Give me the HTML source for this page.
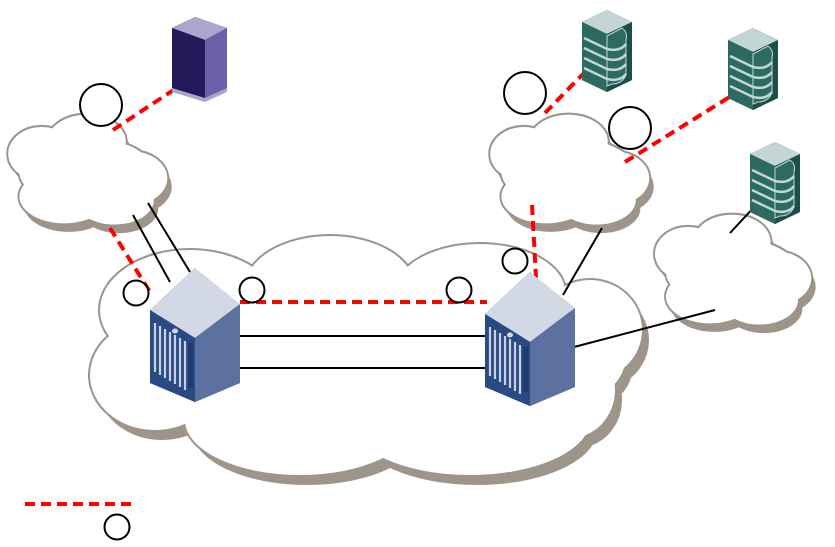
<!DOCTYPE html><html><head><style>html,body{margin:0;padding:0;background:#fff}svg{display:block}</style></head><body>
<svg width="835" height="547" viewBox="0 0 835 547" xmlns="http://www.w3.org/2000/svg">
<defs>
<g id="bigc">
<ellipse cx="370" cy="360" rx="255" ry="85"/>
<ellipse cx="190" cy="310" rx="90" ry="60"/>
<ellipse cx="330" cy="288" rx="85" ry="52"/>
<ellipse cx="480" cy="292" rx="85" ry="48"/>
<ellipse cx="590" cy="330" rx="52" ry="50"/>
<ellipse cx="155" cy="375" rx="65" ry="55"/>
<ellipse cx="300" cy="420" rx="115" ry="55"/>
<ellipse cx="470" cy="420" rx="120" ry="55"/>
<ellipse cx="570" cy="390" rx="45" ry="48"/>
</g>
<g id="sc">
<ellipse cx="80" cy="55" rx="60" ry="28"/>
<ellipse cx="40" cy="40" rx="30" ry="22"/>
<ellipse cx="80" cy="30" rx="35" ry="22"/>
<ellipse cx="120" cy="60" rx="32" ry="22"/>
<ellipse cx="60" cy="75" rx="40" ry="22"/>
<ellipse cx="105" cy="78" rx="35" ry="20"/>
</g>
<g id="scl"><g fill="#9d958a" transform="translate(4,7)"><use href="#sc"/></g><g fill="#9d958a" stroke="#9d958a" stroke-width="3.5"><use href="#sc"/></g><g fill="#fff"><use href="#sc"/></g></g>
<g id="db">
<polygon points="0,12 25,0 50,12 50,70 25,82 0,70" fill="#1e5a50"/>
<polygon points="0,12 25,0 50,12 25,24" fill="#c3d6d3"/>
<polygon points="0,12 25,24 25,82 0,70" fill="#2b6a60"/>
<polygon points="25,24 50,12 50,70 25,82" fill="#1b4f47"/>
<path d="M25,26 L40,18 Q46,22 44,30 L44,65 Q40,74 30,74 L25,76Z" fill="#2d6b61" stroke="#c3d6d3" stroke-width="1"/>
<g stroke="#c3d6d3" stroke-width="2.5" fill="none">
<path d="M2,28 L25,39 Q38,42 44,34"/><path d="M2,38 L25,49 Q38,52 44,44"/><path d="M2,48 L25,59 Q38,62 44,54"/><path d="M2,58 L25,69 Q38,72 44,64"/></g>
</g>
<g id="srv">
<polygon points="0,42 45,0 90,42 90,115 45,134 0,115" fill="#2a4a84"/>
<polygon points="0,42 45,0 90,36 45,70" fill="#d2d8e4"/>
<polygon points="45,70 90,36 90,115 45,134" fill="#5c71a0"/>
<polygon points="0,42 45,70 45,134 0,115" fill="#2a4a84"/>
<g stroke="#c8d0e2" stroke-width="2.2"><line x1="5" y1="55" x2="5" y2="104"/><line x1="10" y1="58" x2="10" y2="107"/><line x1="15" y1="61" x2="15" y2="110"/><line x1="20" y1="64" x2="20" y2="113"/><line x1="25" y1="67" x2="25" y2="116"/><line x1="30" y1="70" x2="30" y2="119"/><line x1="35" y1="73" x2="35" y2="122"/></g>
<rect x="38" y="75" width="5" height="45" fill="#1f3a70"/>
<ellipse cx="25" cy="63" rx="3" ry="2.5" fill="#d2d8e4"/>
</g>
</defs>
<g fill="#9d958a" transform="translate(7,10)"><use href="#bigc"/></g>
<g fill="#9d958a" stroke="#9d958a" stroke-width="4"><use href="#bigc"/></g>
<g fill="#fff"><use href="#bigc"/></g>
<use href="#scl" transform="translate(-3,105) scale(1.12,1.22)"/>
<use href="#scl" transform="translate(479,105) scale(1.12,1.22)"/>
<use href="#scl" transform="translate(644,205) scale(1.1,1.22)"/>
<g stroke="#000" stroke-width="2">
<line x1="148" y1="203" x2="190" y2="272"/><line x1="133" y1="215" x2="170" y2="282"/>
<line x1="240" y1="336" x2="487" y2="336"/><line x1="240" y1="368" x2="487" y2="368"/>
<line x1="563" y1="295" x2="602" y2="228"/>
<line x1="574" y1="347" x2="715" y2="310"/>
<line x1="730" y1="233" x2="756" y2="205"/>
</g>
<g stroke="#f00" stroke-width="4" stroke-dasharray="10,6" fill="none">
<line x1="110" y1="228" x2="150" y2="292"/>
<line x1="240" y1="302" x2="487" y2="302"/>
<line x1="532" y1="205" x2="536" y2="278"/>
<line x1="113" y1="130" x2="178" y2="87"/>
<line x1="545" y1="113" x2="583" y2="74"/>
<line x1="625" y1="162" x2="736" y2="93"/>
<line x1="25" y1="504" x2="131" y2="504"/>
</g>
<use href="#srv" transform="translate(150,268)"/>
<use href="#srv" transform="translate(485,272)"/>
<polygon points="172,28 195,17 227,28 227,90 205,100 172,90" fill="#2a2060"/>
<polygon points="172,28 195,17 227,28 205,40" fill="#aaa6cc"/>
<polygon points="205,40 227,28 227,90 205,100" fill="#6b60a8"/>
<polygon points="172,28 205,40 205,100 172,90" fill="#221a58"/>
<polygon points="172,88 205,98 227,88 227,92 205,102 172,92" fill="#aaa6cc"/>
<use href="#db" transform="translate(582,10)"/>
<use href="#db" transform="translate(728,28)"/>
<use href="#db" transform="translate(750,142)"/>
<g fill="#fff" stroke="#000" stroke-width="2">
<circle cx="101" cy="105" r="21"/><circle cx="525" cy="93" r="21"/><circle cx="630" cy="128" r="21"/>
<circle cx="136" cy="293" r="12.5"/><circle cx="252" cy="290" r="12.5"/><circle cx="459" cy="290" r="12.5"/><circle cx="515" cy="261" r="12.5"/>
<circle cx="117" cy="527" r="12.5"/>
</g>
</svg>
</body></html>
